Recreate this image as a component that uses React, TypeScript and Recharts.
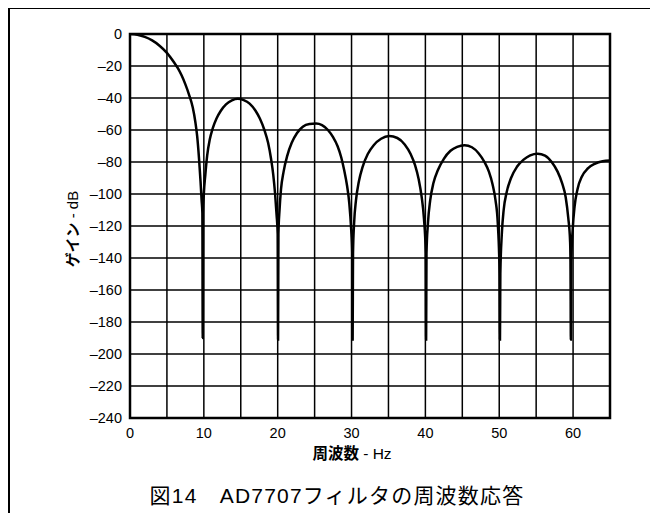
import { LineChart, Line, XAxis, YAxis, CartesianGrid, ReferenceArea, Label } from 'recharts';

// frequency (Hz), gain (dB) pairs, one array per lobe
const mainLobe: [number, number][] = [
  [0, 0], [1, -0.5], [2, -1.8], [3, -4], [4, -7.3], [5, -11.8], [6, -18], [6.5, -21.5],
  [7, -26], [7.5, -31.5], [8, -38], [8.5, -46], [8.85, -55], [9.1, -64], [9.35, -78],
  [9.55, -92], [9.7, -104], [9.8, -112], [9.85, -190],
];
const lobe2: [number, number][] = [
  [9.9, -112], [10.0, -100], [10.2, -88], [10.45, -76], [10.8, -66], [11.2, -59], [11.7, -53],
  [12.3, -48], [13, -44], [13.8, -41.5], [14.6, -40.5], [15.4, -41.3], [16.2, -43.5], [17, -48],
  [17.6, -53], [18.2, -60], [18.7, -68], [19.1, -78], [19.4, -88], [19.65, -100], [19.85, -113],
  [20.0, -125], [20.05, -191],
];
const lobe3: [number, number][] = [
  [20.1, -125], [20.25, -110], [20.45, -97], [20.8, -86], [21.3, -76], [21.9, -68], [22.6, -62],
  [23.4, -58], [24.3, -56.3], [25.2, -56], [26, -57], [26.8, -60], [27.5, -64.5], [28.1, -70],
  [28.6, -77], [29, -85], [29.4, -95], [29.7, -106], [29.95, -122], [30.1, -137], [30.15, -191],
];
const lobe4: [number, number][] = [
  [30.2, -137], [30.35, -118], [30.6, -104], [31, -92], [31.5, -83], [32.2, -75], [33, -69.5],
  [34, -65.5], [35.1, -63.8], [36.2, -65], [37.2, -69], [38, -75], [38.6, -82], [39.1, -91],
  [39.5, -102], [39.8, -115], [40.05, -137], [40.1, -191],
];
const lobe5: [number, number][] = [
  [40.15, -137], [40.35, -118], [40.65, -104], [41.1, -93], [41.7, -85], [42.5, -78], [43.4, -73],
  [44.3, -70.5], [45.3, -69.5], [46.3, -70.8], [47.2, -74.5], [48, -80], [48.6, -86], [49.1, -94],
  [49.5, -104], [49.8, -118], [50.05, -150], [50.1, -191],
];
const lobe6: [number, number][] = [
  [50.15, -150], [50.35, -125], [50.6, -110], [51, -99], [51.6, -90], [52.4, -83], [53.3, -78.5],
  [54.2, -75.8], [55.2, -74.8], [56.2, -76], [57.1, -80], [57.9, -86], [58.5, -93], [59, -102],
  [59.35, -115], [59.6, -130], [59.65, -143], [59.7, -191],
];
const lobe7: [number, number][] = [
  [59.75, -143], [59.95, -122], [60.2, -108], [60.6, -97], [61.2, -89], [62, -84], [63, -81],
  [64, -79.5], [65, -79],
];

const xTicks = [0, 5, 10, 15, 20, 25, 30, 35, 40, 45, 50, 55, 60, 65];
const yTicks = [0, -20, -40, -60, -80, -100, -120, -140, -160, -180, -200, -220, -240];

const xTitleBold = '周波数';
const xTitleRest = ' - Hz';
const yTitleBold = 'ゲイン';
const yTitleRest = ' - dB';
const caption = '図14\u3000AD7707フィルタの周波数応答';

const data = [...mainLobe, ...lobe2, ...lobe3, ...lobe4, ...lobe5, ...lobe6, ...lobe7].map(([f, g]) => ({ f, g }));

const FONT = '"Liberation Sans", Arial, "Noto Sans CJK JP", sans-serif';

const XTitle = ({ viewBox }: any) => {
  const cx = viewBox.x + viewBox.width / 2 - 18;
  const cy = viewBox.y + 35;
  return (
    <text x={cx} y={cy} textAnchor="middle" dominantBaseline="central" fontSize={15.5} fill="#000" fontFamily={FONT}>
      <tspan fontWeight="bold">{xTitleBold}</tspan>
      <tspan>{xTitleRest}</tspan>
    </text>
  );
};

const YTitle = ({ viewBox }: any) => {
  const cx = 72;
  const cy = viewBox.y + viewBox.height / 2 + 3;
  return (
    <text
      x={cx}
      y={cy}
      transform={`rotate(-90 ${cx} ${cy})`}
      textAnchor="middle"
      dominantBaseline="central"
      fontSize={15}
      fill="#000"
      fontFamily={FONT}
    >
      <tspan fontWeight="bold">{yTitleBold}</tspan>
      <tspan>{yTitleRest}</tspan>
    </text>
  );
};

const fmtX = (v: number) => (v % 10 === 0 && v <= 60 ? String(v) : '');
const fmtY = (v: number) => (v < 0 ? '\u2013' + Math.abs(v) : '0');

export default function App() {
  return (
    <div style={{ position: 'relative', width: 658, height: 521, margin: -8, overflow: 'hidden', background: '#fff', fontFamily: FONT }}>
      <div style={{ position: 'absolute', left: 7, top: 6, width: 700, height: 600, border: '3px solid #000' }} />
      <div style={{ position: 'absolute', left: 0, top: 0 }}>
        <LineChart width={658} height={521} data={data} margin={{ top: 34, right: 48, left: 0, bottom: 0 }}>
          <CartesianGrid stroke="#000" strokeWidth={1.5} horizontalValues={yTicks} verticalValues={xTicks} />
          <XAxis
            dataKey="f"
            type="number"
            domain={[0, 65]}
            ticks={xTicks}
            tickFormatter={fmtX}
            interval={0}
            height={103}
            axisLine={false}
            tickLine={false}
            tickSize={0}
            tickMargin={10}
            tick={{ fill: '#000', fontSize: 14.5, fontFamily: FONT }}
          >
            <Label content={<XTitle />} />
          </XAxis>
          <YAxis
            dataKey="g"
            type="number"
            domain={[-240, 0]}
            ticks={yTicks}
            tickFormatter={fmtY}
            interval={0}
            width={130}
            axisLine={false}
            tickLine={false}
            tickSize={0}
            tickMargin={8}
            allowDataOverflow
            tick={{ fill: '#000', fontSize: 14.5, fontFamily: FONT }}
          >
            <Label content={<YTitle />} />
          </YAxis>
          <ReferenceArea x1={0} x2={65} y1={-240} y2={0} fill="none" stroke="#000" strokeWidth={2.5} fillOpacity={0} />
          <Line type="monotone" dataKey="g" stroke="#000" strokeWidth={2.5} dot={false} isAnimationActive={false} />
        </LineChart>
      </div>
      <div style={{ position: 'absolute', left: 0, width: 674, top: 479, textAlign: 'center', fontSize: 21, letterSpacing: 1.2, color: '#000', whiteSpace: 'pre' }}>
        {caption}
      </div>
    </div>
  );
}
